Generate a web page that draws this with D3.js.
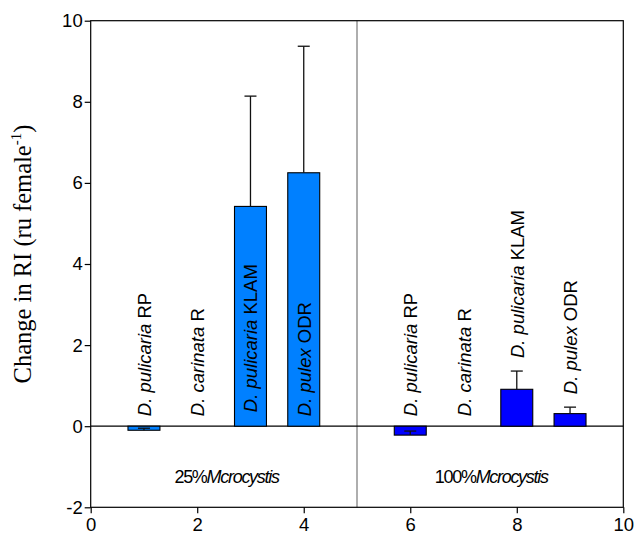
<!DOCTYPE html>
<html>
<head>
<meta charset="utf-8">
<script src="https://cdn.jsdelivr.net/npm/d3@7"></script>
<style>
  html, body { margin: 0; padding: 0; background: #fff; }
  svg { display: block; }
  text { fill: #000; }
</style>
</head>
<body>
<svg id="chart" width="634" height="540"></svg>
<script>
// Change in RI per clone, at 25% and 100% Microcystis
const positions = [1, 2, 3, 4, 6, 7, 8, 9];
const values    = [-0.10, 0, 5.42, 6.25, -0.22, 0, 0.91, 0.31];
const errors    = [0.05, 0, 2.72, 3.12, 0.10, 0, 0.45, 0.16];
const groups    = ["25%", "25%", "25%", "25%", "100%", "100%", "100%", "100%"];
const speciesItalic = ["D. pulicaria", "D. carinata", "D. pulicaria", "D. pulex",
                       "D. pulicaria", "D. carinata", "D. pulicaria", "D. pulex"];
const cloneNames    = ["RP", "R", "KLAM", "ODR", "RP", "R", "KLAM", "ODR"];
const xTicks = [0, 2, 4, 6, 8, 10];
const yTicks = [-2, 0, 2, 4, 6, 8, 10];
const panelLabels = [
  { pct: "25%",  name: "Mcrocystis", at: 2.55 },
  { pct: "100%", name: "Mcrocystis", at: 7.52 }
];

const SANS = "'Liberation Sans', Arial, sans-serif";
const SERIF = "'Liberation Serif', 'Times New Roman', serif";

const svg = d3.select("#chart");
const margin = { left: 90.7, right: 10.7, top: 20.7, bottom: 32.7 };
const W = 634, H = 540;
const x = d3.scaleLinear().domain([0, 10]).range([margin.left, W - margin.right]);
const y = d3.scaleLinear().domain([-2, 10]).range([H - margin.bottom, margin.top]);
const barW = x(0.6) - x(0);
const colour = { "25%": "#0080ff", "100%": "#0000ff" };

// divider between the two Microcystis levels
svg.append("line")
  .attr("x1", x(5)).attr("x2", x(5))
  .attr("y1", y(10)).attr("y2", y(-2))
  .attr("stroke", "#8c8c8c").attr("stroke-width", 1.4);

// zero reference line
svg.append("line")
  .attr("x1", x(0)).attr("x2", x(10))
  .attr("y1", y(0)).attr("y2", y(0))
  .attr("stroke", "#000").attr("stroke-width", 1.2);

const rows = positions.map((p, i) => ({
  p, v: values[i], e: errors[i], g: groups[i], sp: speciesItalic[i], cl: cloneNames[i]
}));

// bars
svg.append("g").selectAll("rect")
  .data(rows.filter(d => d.v !== 0))
  .join("rect")
  .attr("x", d => x(d.p) - barW / 2)
  .attr("width", barW)
  .attr("y", d => y(Math.max(0, d.v)))
  .attr("height", d => Math.abs(y(d.v) - y(0)))
  .attr("fill", d => colour[d.g])
  .attr("stroke", "#000").attr("stroke-width", 1.1);

// error bars (upper side)
const capW = 12;
const eb = svg.append("g").attr("stroke", "#111").attr("stroke-width", 1.3);
rows.filter(d => d.e > 0).forEach(d => {
  const top = d.v + d.e;
  eb.append("line")
    .attr("x1", x(d.p)).attr("x2", x(d.p))
    .attr("y1", y(d.v)).attr("y2", y(top));
  eb.append("line")
    .attr("x1", x(d.p) - capW / 2).attr("x2", x(d.p) + capW / 2)
    .attr("y1", y(top)).attr("y2", y(top));
});

// clone labels, written bottom-to-top
rows.forEach(d => {
  let start;
  if (d.g === "100%" && d.v > 0) start = y(d.v + d.e) - 13;
  else start = y(0) - 10;
  if (d.cl === "KLAM" && d.g === "25%") start = y(0) - 14;
  const t = svg.append("text")
    .attr("transform", `translate(${x(d.p) + 7},${start}) rotate(-90)`)
    .style("font-family", SANS)
    .style("font-size", "18.5px");
  t.append("tspan").style("font-style", "italic").text(d.sp);
  t.append("tspan").text(" " + d.cl);
});

// panel labels (tightly set)
panelLabels.forEach(pl => {
  const t = svg.append("text")
    .attr("x", x(pl.at)).attr("y", 483)
    .attr("text-anchor", "middle")
    .style("font-family", SANS)
    .style("font-size", "18px")
    .style("letter-spacing", "-1.3px");
  t.append("tspan").text(pl.pct);
  t.append("tspan").style("font-style", "italic").text(pl.name);
});

// frame
svg.append("rect")
  .attr("x", x(0)).attr("y", y(10))
  .attr("width", x(10) - x(0)).attr("height", y(-2) - y(10))
  .attr("fill", "none").attr("stroke", "#000").attr("stroke-width", 1.2);

// axes
const xAxis = svg.append("g")
  .attr("transform", `translate(0,${y(-2)})`)
  .call(d3.axisBottom(x).tickValues(xTicks).tickSize(6).tickPadding(5).tickFormat(d3.format("d")));
const yAxis = svg.append("g")
  .attr("transform", `translate(${x(0)},0)`)
  .call(d3.axisLeft(y).tickValues(yTicks).tickSize(6).tickPadding(2).tickFormat(d => d < 0 ? "-" + Math.abs(d) : d));
[xAxis, yAxis].forEach(a => {
  a.select(".domain").remove();
  a.selectAll("line").attr("stroke", "#000").attr("stroke-width", 1.2);
  a.selectAll("text").style("font-size", "18.5px").style("font-family", SANS).attr("fill", "#000");
});

// y-axis title
const yt = svg.append("text")
  .attr("transform", `translate(31,254) rotate(-90)`)
  .attr("text-anchor", "middle")
  .style("font-family", SERIF)
  .style("font-size", "24.5px");
yt.append("tspan").text("Change in RI (ru female");
yt.append("tspan").style("font-size", "15px").attr("dy", -10).text("-1");
yt.append("tspan").attr("dy", 10).text(")");
</script>
</body>
</html>
